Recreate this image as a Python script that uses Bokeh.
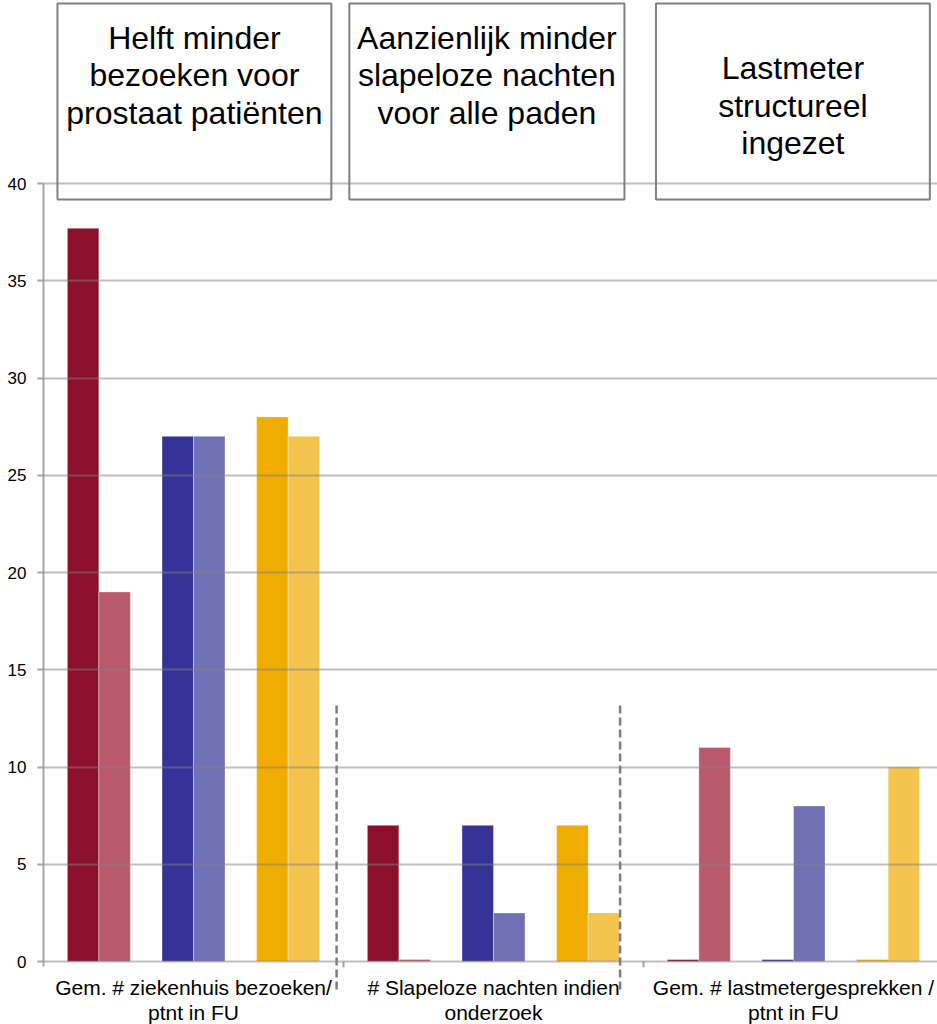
from bokeh.plotting import figure
from bokeh.models import Range1d, FixedTicker, ColumnDataSource
from bokeh.core.properties import value
from bokeh.embed import file_html
from bokeh.resources import INLINE

# Categories along the horizontal axis
categories = [
    "Gem. # ziekenhuis bezoeken/\nptnt in FU",
    "# Slapeloze nachten indien\nonderzoek",
    "Gem. # lastmetergesprekken /\nptnt in FU",
]

# Headline per category
headlines = [
    "Helft minder\nbezoeken voor\nprostaat patiënten",
    "Aanzienlijk minder\nslapeloze nachten\nvoor alle paden",
    "Lastmeter\nstructureel\ningezet",
]

# Values per care pathway: before (voor) and after (na)
pad1_voor = [37.7, 7.0, 0.1]
pad1_na = [19.0, 0.1, 11.0]
pad2_voor = [27.0, 7.0, 0.1]
pad2_na = [27.0, 2.5, 8.0]
pad3_voor = [28.0, 7.0, 0.1]
pad3_na = [27.0, 2.5, 10.0]

y_ticks = [0, 5, 10, 15, 20, 25, 30, 35, 40]

FONT = "Liberation Sans"
BAR_W = 0.105
PAIR_STEP = 0.3155

series = [
    (pad1_voor, -PAIR_STEP - BAR_W / 2, "#8C0F2B"),
    (pad1_na, -PAIR_STEP + BAR_W / 2, "#B85A6B"),
    (pad2_voor, -BAR_W / 2, "#353397"),
    (pad2_na, BAR_W / 2, "#7070B5"),
    (pad3_voor, PAIR_STEP - BAR_W / 2, "#F0AD00"),
    (pad3_na, PAIR_STEP + BAR_W / 2, "#F4C44F"),
]

p = figure(
    width=937, height=1024,
    x_range=Range1d(0, 2.98),
    y_range=Range1d(-3.239, 49.409),
    x_axis_location=None,
    output_backend="svg", toolbar_location=None,
    min_border_left=43, min_border_right=0,
    min_border_top=0, min_border_bottom=0,
)
p.outline_line_color = None
p.xgrid.visible = False

# Horizontal gridlines, drawn over the bars
p.ygrid.ticker = FixedTicker(ticks=y_ticks)
p.ygrid.grid_line_color = "#7f7f7f"
p.ygrid.grid_line_alpha = 0.5
p.ygrid.grid_line_width = 2
p.ygrid.level = "annotation"

# Value axis
yax = p.yaxis[0]
yax.ticker = FixedTicker(ticks=y_ticks)
yax.bounds = (-0.28, 40)
yax.axis_line_color = "#a6a6a6"
yax.axis_line_width = 2
yax.major_tick_line_color = "#a6a6a6"
yax.major_tick_line_width = 2
yax.major_tick_out = 6
yax.major_tick_in = 0
yax.minor_tick_line_color = None
yax.major_label_standoff = 11
yax.major_label_text_font = FONT
yax.major_label_text_font_size = "17px"
yax.major_label_text_color = "#000000"

centers = [i + 0.5 for i in range(len(categories))]

for vals, offset, color in series:
    src = ColumnDataSource(dict(x=[c + offset for c in centers], top=vals))
    p.vbar(x="x", top="top", bottom=0, width=BAR_W, source=src,
           fill_color=color, line_color="white", line_alpha=0.35, line_width=1)

# Category boundary ticks below the baseline
p.segment(x0=[1, 2], y0=[0, 0], x1=[1, 2], y1=[-0.3, -0.3],
          line_color="#a6a6a6", line_width=2)

# Category labels
p.text(x=centers, y=[-1.99] * 3, text=categories,
       text_font=value(FONT), text_font_size="21px", text_color="#000000",
       text_align="center", text_baseline="middle", text_line_height=1.066)

# Dashed separators between the sections
p.segment(x0=[0.977, 1.922], y0=[13.16, 13.16], x1=[0.977, 1.922], y1=[-1.65, -1.65],
          line_color="#7f7f7f", line_width=2.5, line_dash="8 4")

# Headline boxes
box_x = [0.503, 1.478, 2.498]
box_w = [0.913, 0.917, 0.913]
p.rect(x=box_x, y=[44.216] * 3, width=box_w, height=[10.077] * 3,
       fill_alpha=0, line_color="#808080", line_width=2)
p.text(x=box_x, y=[45.553, 45.553, 44.01], text=headlines,
       text_font=value(FONT), text_font_size="32px", text_color="#000000",
       text_align="center", text_baseline="middle", text_line_height=1.035)

open("out.html", "w").write(file_html(p, INLINE))
